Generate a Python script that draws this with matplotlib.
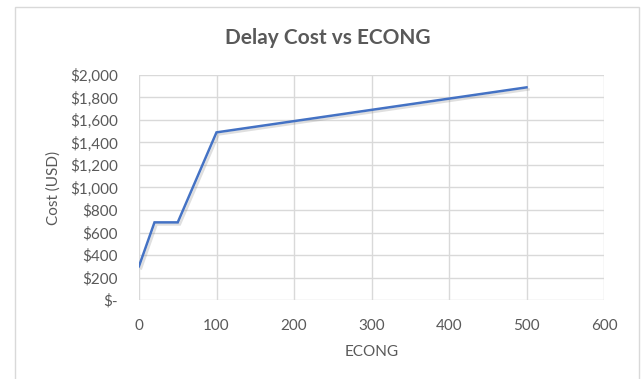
import matplotlib.pyplot as plt
import matplotlib.patheffects as pe
from matplotlib.patches import Rectangle
from matplotlib.ticker import FuncFormatter

econg = [0, 20, 50, 100, 500]
cost = [300, 690, 690, 1490, 1890]

x_ticks = [0, 100, 200, 300, 400, 500, 600]
y_ticks = [0, 200, 400, 600, 800, 1000, 1200, 1400, 1600, 1800, 2000]

text_color = '#595959'
grid_color = '#d9d9d9'

plt.rcParams['font.family'] = ['Lato', 'DejaVu Sans']

fig = plt.figure(figsize=(6.41, 3.79), dpi=100)
W, H = 641, 379
ax = fig.add_axes([139 / W, 1 - 300 / H, (604 - 139) / W, (300 - 75) / H])

# outer chart border
fig.patches.append(Rectangle((15 / W, -0.1), (639 - 15) / W, 1.1 - 7 / H,
                             transform=fig.transFigure, fill=False,
                             edgecolor='#d9d9d9', linewidth=1))

ax.plot(econg, cost, color='#4472c4', linewidth=1.8, solid_joinstyle='miter',
        path_effects=[pe.SimpleLineShadow(offset=(1.5, -1.5), shadow_color='gray', alpha=0.25),
                      pe.Normal()])

ax.set_xlim(0, 600)
ax.set_ylim(0, 2000)
ax.set_xticks(x_ticks)
ax.set_yticks(y_ticks)


def dollars(v, pos):
    if v == 0:
        return '$-'
    return f'${v:,.0f}'


ax.yaxis.set_major_formatter(FuncFormatter(dollars))
ax.grid(True, color=grid_color, linewidth=1)
ax.set_axisbelow(True)
for s in ax.spines.values():
    s.set_visible(False)
ax.tick_params(length=0, labelsize=11, colors=text_color, pad=14)
ax.tick_params(axis='y', pad=15)

ax.set_xlabel('ECONG', fontsize=11, color=text_color, labelpad=8)
ax.set_ylabel('Cost (USD)', fontsize=11, color=text_color, labelpad=7)
fig.text(328 / W, 1 - 38 / H, 'Delay Cost vs ECONG', fontsize=15, fontweight='bold',
         color=text_color, ha='center', va='center')

fig.savefig('out.png', dpi=100)
